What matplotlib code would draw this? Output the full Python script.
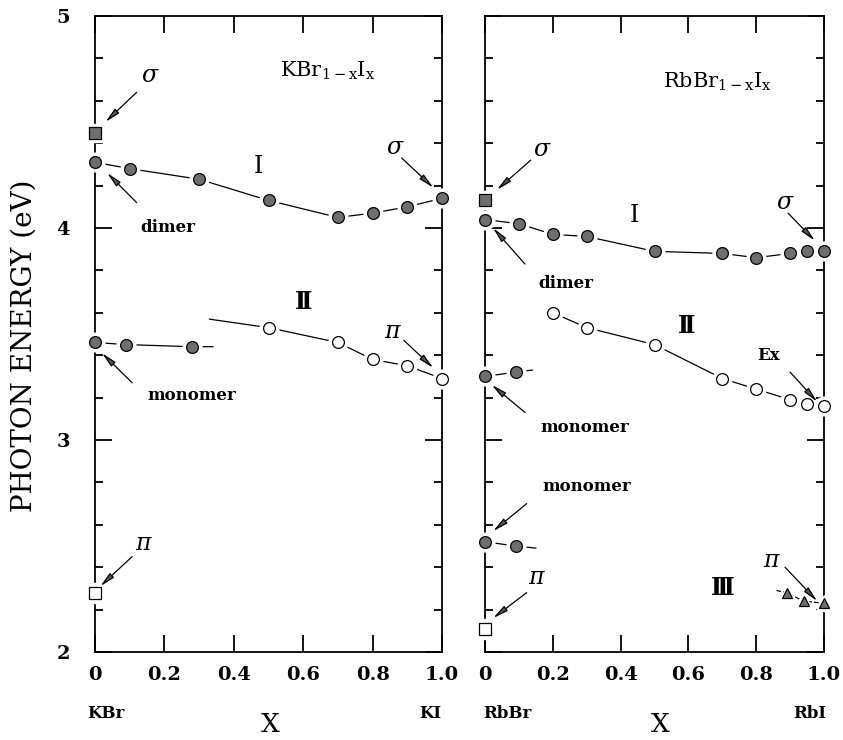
import numpy as np
import matplotlib
matplotlib.use("Agg")
import matplotlib.pyplot as plt
from matplotlib.ticker import MultipleLocator

plt.rcParams['font.family'] = ['DejaVu Serif', 'DejaVu Sans']
plt.rcParams['mathtext.fontset'] = 'dejavuserif'

# ---------------- KBr(1-x)I(x) ----------------
k_sigma_x = [0.0]
k_sigma_y = [4.45]
k_pi_x = [0.0]
k_pi_y = [2.28]
k_I_x = [0.0, 0.1, 0.3, 0.5, 0.7, 0.8, 0.9, 1.0]
k_I_y = [4.31, 4.28, 4.23, 4.13, 4.05, 4.07, 4.10, 4.14]
k_II_x = [0.5, 0.7, 0.8, 0.9, 1.0]
k_II_y = [3.53, 3.46, 3.38, 3.35, 3.29]
k_II_line_x = [0.33, 0.5, 0.7, 0.8, 0.9, 1.0]
k_II_line_y = [3.57, 3.53, 3.46, 3.38, 3.35, 3.29]
k_mono_x = [0.0, 0.09, 0.28]
k_mono_y = [3.46, 3.45, 3.44]
k_mono_line_x = [0.0, 0.09, 0.28, 0.34]
k_mono_line_y = [3.46, 3.45, 3.44, 3.44]

# ---------------- RbBr(1-x)I(x) ----------------
r_sigma_x = [0.0]
r_sigma_y = [4.13]
r_pi_x = [0.0]
r_pi_y = [2.11]
r_I_x = [0.0, 0.1, 0.2, 0.3, 0.5, 0.7, 0.8, 0.9, 0.95, 1.0]
r_I_y = [4.04, 4.02, 3.97, 3.96, 3.89, 3.88, 3.86, 3.88, 3.89, 3.89]
r_II_x = [0.2, 0.3, 0.5, 0.7, 0.8, 0.9, 0.95, 1.0]
r_II_y = [3.60, 3.53, 3.45, 3.29, 3.24, 3.19, 3.17, 3.16]
r_mono1_x = [0.0, 0.09]
r_mono1_y = [3.30, 3.32]
r_mono1_line_x = [0.0, 0.09, 0.14]
r_mono1_line_y = [3.30, 3.32, 3.33]
r_mono2_x = [0.0, 0.09]
r_mono2_y = [2.52, 2.50]
r_mono2_line_x = [0.0, 0.09, 0.15]
r_mono2_line_y = [2.52, 2.50, 2.49]
r_III_x = [0.89, 0.94, 1.0]
r_III_y = [2.28, 2.24, 2.23]
r_III_line_x = [0.86, 0.89, 0.94, 1.0]
r_III_line_y = [2.29, 2.28, 2.24, 2.23]

gray = '#6e6e6e'
ms = 8.5

fig = plt.figure(figsize=(8.43, 7.4), dpi=100)
ax1 = fig.add_axes([95/843, 1-652/740, 347/843, 636/740])
ax2 = fig.add_axes([485/843, 1-652/740, 339/843, 636/740])

def gapline(ax, x, y, ls='-'):
    ax.plot(x, y, ls, color='black', lw=0.9, zorder=2, clip_on=False)

def dots(ax, x, y, fc, marker='o', size=ms):
    # white halo gives the broken-line look of the original
    ax.plot(x, y, marker, ms=size + 5, color='white', mec='white', ls='none', zorder=3, clip_on=False)
    ax.plot(x, y, marker, ms=size, mfc=fc, mec='black', mew=0.9, ls='none', zorder=4, clip_on=False)

def arrow(ax, xy, xytext):
    ax.annotate('', xy=xy, xytext=xytext,
                arrowprops=dict(arrowstyle='-|>,head_length=0.9,head_width=0.18',
                                lw=0.9, color='black', fc='#555555', shrinkA=0, shrinkB=0),
                zorder=5)

for ax in (ax1, ax2):
    ax.set_xlim(0, 1)
    ax.set_ylim(2, 5)
    ax.xaxis.set_major_locator(MultipleLocator(0.2))
    ax.yaxis.set_major_locator(MultipleLocator(1))
    ax.yaxis.set_minor_locator(MultipleLocator(0.2))
    ax.tick_params(which='both', direction='in', top=True, right=True, width=1.3)
    ax.tick_params(which='major', length=12)
    ax.tick_params(which='minor', length=6)
    ax.tick_params(axis='x', labelsize=14, pad=10)
    ax.tick_params(axis='y', labelsize=14, pad=18)
    ax.set_xticks([0, 0.2, 0.4, 0.6, 0.8, 1.0])
    ax.set_xticklabels(['0', '0.2', '0.4', '0.6', '0.8', '1.0'], fontweight='semibold')
    for s in ax.spines.values():
        s.set_linewidth(1.3)

ax1.set_yticks([2, 3, 4, 5])
ax1.set_yticklabels(['2', '3', '4', '5'], fontweight='semibold')
ax2.set_yticklabels([])
fig.text(24/843, 1-346/740, 'PHOTON ENERGY (eV)', fontsize=20, rotation=90,
         ha='center', va='center')

# left panel
gapline(ax1, k_I_x, k_I_y)
dots(ax1, k_I_x, k_I_y, gray)
gapline(ax1, k_II_line_x, k_II_line_y)
dots(ax1, k_II_x, k_II_y, 'white')
gapline(ax1, k_mono_line_x, k_mono_line_y)
dots(ax1, k_mono_x, k_mono_y, gray)
dots(ax1, k_sigma_x, k_sigma_y, gray, 's', 8)
dots(ax1, k_pi_x, k_pi_y, 'white', 's', 9)

ax1.text(0.67, 4.74, r'KBr$_{\mathregular{1-x}}$I$_{\mathregular{x}}$', fontsize=15, ha='center', va='center')
ax1.text(0.47, 4.29, 'I', fontsize=17, ha='center', va='center')
ax1.text(0.60, 3.65, 'Ⅱ', fontsize=17, ha='center', va='center', fontweight='bold')
ax1.text(0.16, 4.72, r'$\sigma$', fontsize=17, ha='center', va='center')
arrow(ax1, (0.03, 4.50), (0.12, 4.64))
ax1.text(0.865, 4.38, r'$\sigma$', fontsize=17, ha='center', va='center')
arrow(ax1, (0.975, 4.19), (0.884, 4.33))
ax1.text(0.21, 4.0, 'dimer', fontsize=12, ha='center', va='center', fontweight='bold')
arrow(ax1, (0.035, 4.26), (0.12, 4.12))
ax1.text(0.86, 3.51, r'$\pi$', fontsize=17, ha='center', va='center')
arrow(ax1, (0.975, 3.34), (0.89, 3.47))
ax1.text(0.28, 3.21, 'monomer', fontsize=12, ha='center', va='center', fontweight='bold')
arrow(ax1, (0.02, 3.41), (0.107, 3.27))
ax1.text(0.14, 2.51, r'$\pi$', fontsize=17, ha='center', va='center')
arrow(ax1, (0.015, 2.31), (0.107, 2.45))

# right panel
gapline(ax2, r_I_x, r_I_y)
dots(ax2, r_I_x, r_I_y, gray)
gapline(ax2, r_II_x, r_II_y)
dots(ax2, r_II_x, r_II_y, 'white')
gapline(ax2, r_mono1_line_x, r_mono1_line_y)
dots(ax2, r_mono1_x, r_mono1_y, gray)
gapline(ax2, r_mono2_line_x, r_mono2_line_y)
dots(ax2, r_mono2_x, r_mono2_y, gray)
gapline(ax2, r_III_line_x, r_III_line_y, '--')
dots(ax2, r_III_x, r_III_y, gray, '^', 7)
dots(ax2, r_sigma_x, r_sigma_y, gray, 's', 8)
dots(ax2, r_pi_x, r_pi_y, 'white', 's', 9)

ax2.text(0.685, 4.69, r'RbBr$_{\mathregular{1-x}}$I$_{\mathregular{x}}$', fontsize=15, ha='center', va='center')
ax2.text(0.44, 4.06, 'I', fontsize=17, ha='center', va='center')
ax2.text(0.595, 3.54, 'Ⅱ', fontsize=17, ha='center', va='center', fontweight='bold')
ax2.text(0.70, 2.30, 'Ⅲ', fontsize=17, ha='center', va='center', fontweight='bold')
ax2.text(0.17, 4.37, r'$\sigma$', fontsize=17, ha='center', va='center')
arrow(ax2, (0.035, 4.18), (0.135, 4.32))
ax2.text(0.24, 3.74, 'dimer', fontsize=12, ha='center', va='center', fontweight='bold')
arrow(ax2, (0.024, 4.0), (0.118, 3.83))
ax2.text(0.885, 4.12, r'$\sigma$', fontsize=17, ha='center', va='center')
arrow(ax2, (0.973, 3.94), (0.894, 4.07))
ax2.text(0.835, 3.40, 'Ex', fontsize=12, ha='center', va='center', fontweight='bold')
arrow(ax2, (0.98, 3.18), (0.9, 3.32))
ax2.text(0.295, 3.06, 'monomer', fontsize=12, ha='center', va='center', fontweight='bold')
arrow(ax2, (0.02, 3.26), (0.118, 3.13))
ax2.text(0.30, 2.78, 'monomer', fontsize=12, ha='center', va='center', fontweight='bold')
arrow(ax2, (0.024, 2.57), (0.123, 2.70))
ax2.text(0.153, 2.35, r'$\pi$', fontsize=17, ha='center', va='center')
arrow(ax2, (0.024, 2.16), (0.123, 2.28))
ax2.text(0.847, 2.43, r'$\pi$', fontsize=17, ha='center', va='center')
arrow(ax2, (0.98, 2.24), (0.885, 2.40))

# end-member names and X labels
fig.text(87/843, 1-713/740, 'KBr', fontsize=12, fontweight='bold', ha='left', va='center')
fig.text(430/843, 1-713/740, 'KI', fontsize=12, fontweight='bold', ha='center', va='center')
fig.text(270/843, 1-724/740, 'X', fontsize=19, ha='center', va='center')
fig.text(483/843, 1-713/740, 'RbBr', fontsize=12, fontweight='bold', ha='left', va='center')
fig.text(810/843, 1-713/740, 'RbI', fontsize=12, fontweight='bold', ha='center', va='center')
fig.text(660/843, 1-724/740, 'X', fontsize=19, ha='center', va='center')

plt.savefig('out.png', dpi=100)
